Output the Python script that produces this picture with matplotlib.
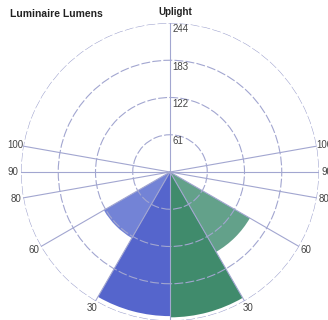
import matplotlib
matplotlib.use('Agg')
import matplotlib.pyplot as plt
import numpy as np

# zonal lumens, angle measured from nadir
zone_start = [0, 30]
zone_width = 30
left_lumens = [236, 125]
right_lumens = [238, 151]
left_colors = ['#5565cc', '#7383d6']
right_colors = ['#408b6c', '#63a18a']
ring_values = [61, 122, 183, 244]
spoke_angles = [0, 30, 60, 80, 90, 100, 180]
r_max = 244

plt.rcParams['font.family'] = ['Liberation Sans', 'DejaVu Sans']

fig = plt.figure(figsize=(3.28, 3.2), dpi=100)
cx, cy = 170 / 328, 1 - 172 / 320
rx, ry = 149 / 328, 149 / 320
ax = fig.add_axes([cx - rx, cy - ry, 2 * rx, 2 * ry], projection='polar')
ax.set_theta_zero_location('S')
ax.set_theta_direction(-1)

# left half goes clockwise from nadir, right half mirrored
for s, v, c in zip(zone_start, left_lumens, left_colors):
    ax.bar(np.deg2rad(s + zone_width / 2), v, width=np.deg2rad(zone_width),
           color=c, edgecolor='none', align='center')
for s, v, c in zip(zone_start, right_lumens, right_colors):
    ax.bar(np.deg2rad(360 - s - zone_width / 2), v, width=np.deg2rad(zone_width),
           color=c, edgecolor='none', align='center')

ax.set_ylim(0, r_max)
ax.set_rticks(ring_values)
ax.set_yticklabels([])
grid_col = '#a2a6d0'
ax.yaxis.grid(True, color=grid_col, linestyle=(0, (8, 2)), linewidth=0.8)

theta_ticks = []
theta_labels = []
for a in spoke_angles:
    theta_ticks.append(a)
    theta_labels.append('' if a in (0, 180) else str(a))
    if a not in (0, 180):
        theta_ticks.append(360 - a)
        theta_labels.append(str(a))
ax.set_xticks(np.deg2rad(theta_ticks))
ax.set_xticklabels(theta_labels)
ax.xaxis.grid(True, color=grid_col, linestyle='-', linewidth=0.8)
ax.tick_params(axis='x', pad=-5, labelsize=7, labelcolor='#444444')
ax.set_axisbelow(False)
ax.spines['polar'].set_visible(False)
ax.set_facecolor('none')

for r in ring_values:
    ax.annotate(str(r), xy=(np.pi, r), xytext=(1.5, -1), textcoords='offset points',
                ha='left', va='top', fontsize=7, color='#444444')

fig.text(10 / 328, 1 - 14 / 320, 'Luminaire Lumens', fontsize=7.5, fontweight='bold',
         ha='left', va='center', color='#222222')
fig.text(175 / 328, 1 - 12 / 320, 'Uplight', fontsize=7, fontweight='bold',
         ha='center', va='center', color='#222222')

fig.savefig('out.png', dpi=100)
